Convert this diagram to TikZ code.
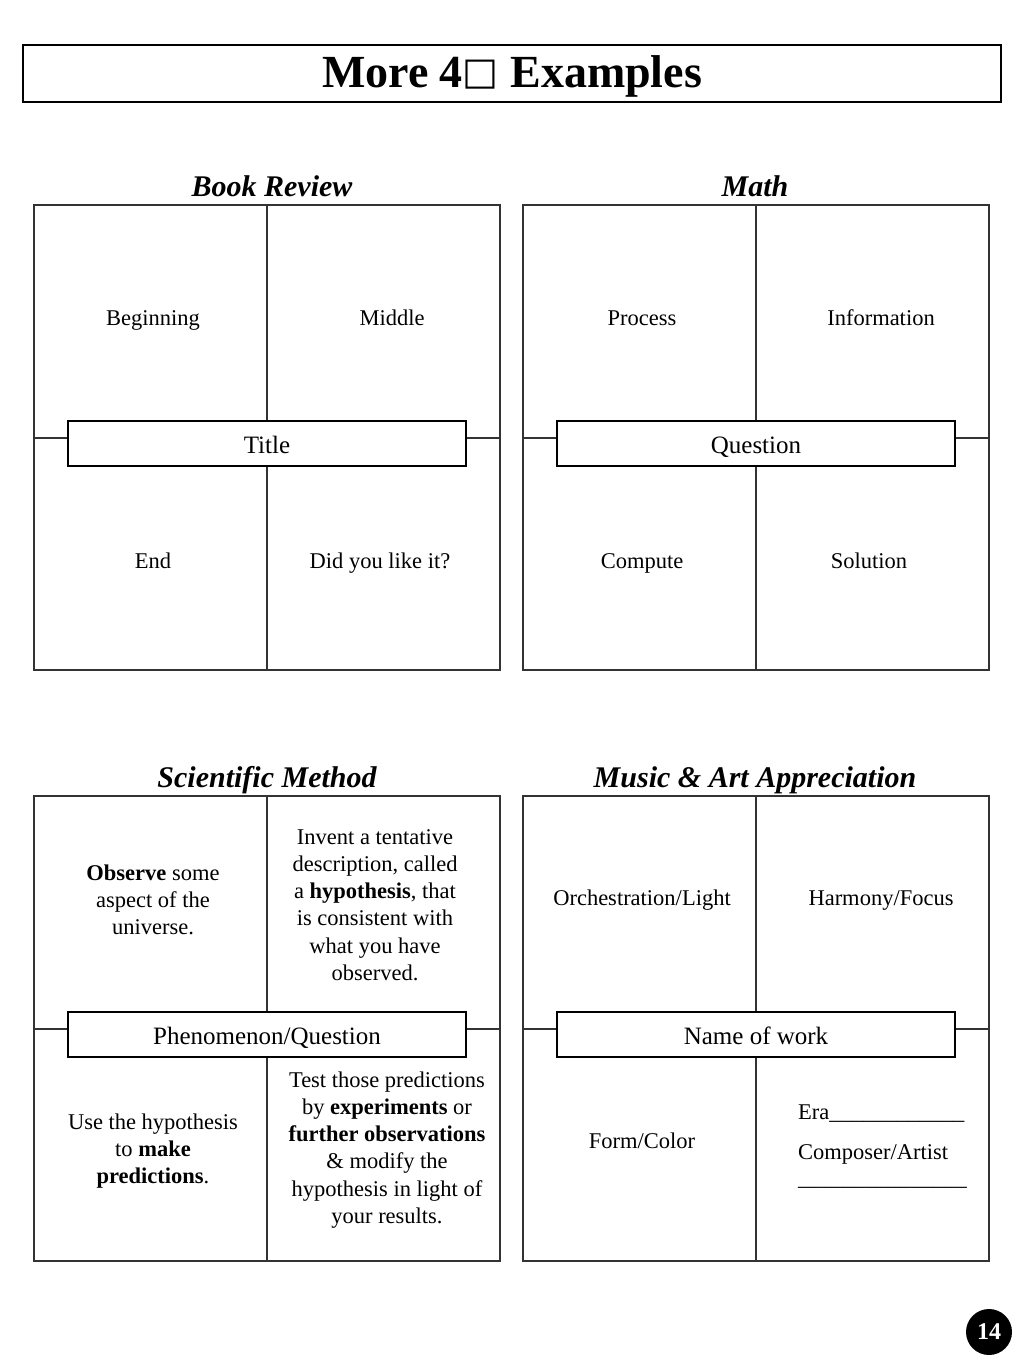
\documentclass[tikz,border=0pt]{standalone}
\usepackage{fontspec}
\setmainfont{Liberation Serif}
\newfontfamily\symfont{DejaVu Sans}
\begin{document}
\begin{tikzpicture}[x=1pt,y=-1pt,
  gridline/.style={line width=1.1pt, draw=black!80},
  inner/.style={draw, line width=1.1pt, fill=white, minimum width=398pt, minimum height=45pt, inner sep=0pt, text height=19pt, text depth=0pt, font=\fontsize{25}{28}\selectfont},
  cell/.style={align=center, font=\fontsize{22.5}{27.2}\selectfont, inner sep=0pt},
  one/.style={cell, anchor=base},
  head/.style={font=\fontsize{30}{34}\selectfont\bfseries\itshape, anchor=base, inner sep=0pt},
]
\useasboundingbox (0,0) rectangle (1024,1365);
\node[draw, line width=1.1pt, minimum width=978pt, minimum height=57pt, inner sep=0pt, text height=27pt, text depth=0pt, font=\fontsize{46}{50}\selectfont\bfseries] (title) at (512,73.5) {More 4\raisebox{0.06em}{\symfont\fontsize{38}{40}\selectfont □} Examples};

% headings
\node[head] (h1) at (272,196) {Book Review};
\node[head] (h2) at (755,196) {Math};
\node[head] (h3) at (267,787) {Scientific Method};
\node[head] (h4) at (755,787) {Music \& Art Appreciation};

% panels
\foreach \ox/\oy in {34/205, 523/205, 34/796, 523/796}{
  \draw[gridline] (\ox,\oy) rectangle ++(466,465);
  \draw[gridline] (\ox+233,\oy) -- ++(0,465);
  \draw[gridline] (\ox,\oy+233) -- ++(34,0);
  \draw[gridline] (\ox+432,\oy+233) -- ++(34,0);
}

% Book Review
\node[inner] (t1) at (267,443.5) {Title};
\node[one] (b1) at (153,325) {Beginning};
\node[one] (b2) at (392,325) {Middle};
\node[one] (b3) at (153,568) {End};
\node[one] (b4) at (380,568) {Did you like it?};

% Math
\node[inner] (t2) at (756,443.5) {Question};
\node[one] (m1) at (642,325) {Process};
\node[one] (m2) at (881,325) {Information};
\node[one] (m3) at (642,568) {Compute};
\node[one] (m4) at (869,568) {Solution};

% Scientific Method
\node[inner] (t3) at (267,1034.5) {Phenomenon/Question};
\node[cell] (s1) at (153,900) {\textbf{Observe} some\\aspect of the\\universe.};
\node[cell] (s2) at (375,905) {Invent a tentative\\description, called\\a \textbf{hypothesis}, that\\is consistent with\\what you have\\observed.};
\node[cell] (s3) at (153,1151) {Use the hypothesis\\to \textbf{make}\\\textbf{predictions}.};
\node[cell] (s4) at (387,1150) {Test those predictions\\by \textbf{experiments} or\\\textbf{further observations}\\\& modify the\\hypothesis in light of\\your results.};

% Music & Art
\node[inner] (t4) at (756,1034.5) {Name of work};
\node[one] (a1) at (642,905) {Orchestration/Light};
\node[one] (a2) at (881,905) {Harmony/Focus};
\node[one] (a3) at (642,1148) {Form/Color};
\node[cell, align=left, anchor=base west, font=\fontsize{22.5}{40}\selectfont] (a4) at (798,1185) {Era\_\_\_\_\_\_\_\_\_\_\_\_\\Composer/Artist\\[-14pt]\_\_\_\_\_\_\_\_\_\_\_\_\_\_\_};

% page number
\node[circle, fill=black, minimum size=46pt, inner sep=0pt, text=white, font=\fontsize{24}{28}\selectfont\bfseries] (pg) at (989,1332) {14};
\end{tikzpicture}
\end{document}
